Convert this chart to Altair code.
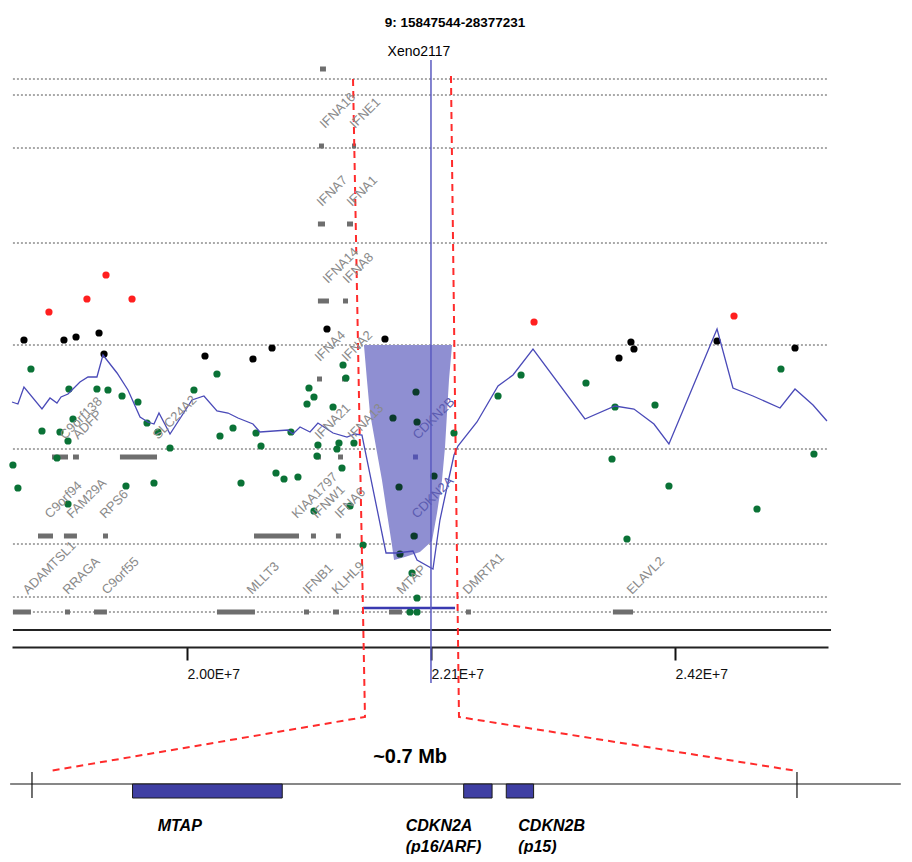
import altair as alt
import pandas as pd

# ---------------- data (positions in Mb, y in log-ratio units) ----------------
TITLE = "9: 15847544-28377231"
MARKER_NAME = "Xeno2117"
MARKER_POS = 22.1
MARKER_TOP, MARKER_BOTTOM = 2.85, -3.38
MARKER_LABEL_V = 2.93

X_DOMAIN = [18.494, 25.517]
Y_DOMAIN = [-5.09, 2.87]
TICK_VALUES = [20.0, 22.1, 24.2]

LEVELS = [2.66, 2.50, 1.97, 1.02, 0.0, -1.04, -1.99, -2.52, -2.67]
LEVEL_START, LEVEL_END = 18.502, 25.517
BASELINE_V = -2.85
BASELINE_START, BASELINE_END = 18.502, 25.543

red_x = [19.303, 18.812, 19.139, 19.527, 22.987, 24.708]
red_v = [0.70, 0.33, 0.46, 0.46, 0.23, 0.29]

black_x = [18.597, 18.941, 19.045, 19.243, 19.286, 20.155, 20.568, 20.732,
           21.205, 21.704, 23.718, 23.821, 23.847, 24.562, 25.233]
black_v = [0.05, 0.05, 0.08, 0.12, -0.09, -0.11, -0.14, -0.03,
           0.16, 0.06, -0.13, 0.03, -0.04, 0.04, -0.03]

green_x = [18.657, 18.502, 18.545, 18.752, 18.907, 18.976, 19.019, 18.984, 18.881,
           18.976, 19.225, 19.320, 19.441, 19.578, 19.656, 19.750, 19.854, 19.475,
           19.716, 20.060, 20.258, 20.284, 20.396, 20.465, 20.594, 20.637, 20.766,
           20.835, 20.955, 20.895, 21.050, 21.093, 21.033, 21.257, 21.127, 21.119,
           21.291, 21.308, 21.334, 21.343, 21.368, 21.437, 21.093, 21.403, 21.515,
           21.937, 21.980, 21.919, 21.980, 22.298, 22.677, 22.875, 23.434, 23.684,
           24.028, 23.658, 24.148, 23.787, 24.906, 25.112, 25.396]
green_v = [-0.24, -1.20, -1.43, -0.86, -0.87, -0.96, -0.74, -0.44, -1.13,
           -1.59, -0.44, -0.45, -0.51, -0.57, -0.78, -0.87, -1.03, -1.41,
           -1.38, -0.45, -0.29, -0.91, -0.83, -1.38, -0.88, -1.01, -1.28,
           -1.34, -1.32, -0.87, -0.43, -0.52, -0.59, -0.62, -1.00, -1.11,
           -1.04, -0.98, -1.23, -0.20, -0.33, -0.98, -1.66, -1.61, -2.00,
           -2.28, -2.53, -2.67, -2.67, -0.88, -0.51, -0.30, -0.38, -0.62,
           -0.60, -1.14, -1.41, -1.94, -1.64, -0.24, -1.09]

dark_x = [21.971, 21.773, 21.980, 22.126, 21.825, 21.954, 21.833]
dark_v = [-0.47, -0.73, -0.77, -1.31, -1.42, -1.91, -2.09]

avg_x = [18.494, 18.545, 18.597, 18.752, 18.821, 18.881, 18.916, 18.976, 19.079,
         19.148, 19.225, 19.277, 19.398, 19.492, 19.596, 19.664, 19.716, 19.759,
         19.854, 20.043, 20.146, 20.258, 20.353, 20.439, 20.568, 20.628, 20.869,
         20.912, 20.973, 21.059, 21.127, 21.257, 21.377, 21.446, 21.506, 21.713,
         21.807, 21.945, 21.980, 22.117, 22.177, 22.238, 22.298, 22.332, 22.496,
         22.677, 22.806, 22.978, 23.425, 23.684, 23.847, 24.019, 24.148, 24.562,
         24.699, 24.871, 25.104, 25.233, 25.388, 25.508]
avg_v = [-0.57, -0.59, -0.42, -0.64, -0.53, -0.58, -0.52, -0.49, -0.37,
         -0.32, -0.32, -0.10, -0.28, -0.45, -0.72, -0.77, -0.79, -0.68,
         -0.89, -0.55, -0.51, -0.66, -0.68, -0.73, -0.79, -0.87, -0.85,
         -0.89, -0.82, -0.87, -0.78, -0.88, -0.92, -0.89, -0.90, -2.08,
         -2.08, -2.06, -2.15, -2.24, -1.75, -1.42, -1.10, -1.01, -0.77,
         -0.41, -0.30, -0.04, -0.74, -0.61, -0.64, -0.79, -0.99, 0.16,
         -0.43, -0.51, -0.63, -0.44, -0.60, -0.76]

del_x = [21.523, 21.549, 21.575, 21.627, 21.678, 21.721, 21.764, 21.782, 21.876,
         22.005, 22.109, 22.152, 22.195, 22.221, 22.238, 22.255, 22.281]
del_v = [0.0, -0.35, -0.68, -1.02, -1.35, -1.68, -2.00, -2.15, -2.12,
         -2.07, -1.96, -1.68, -1.35, -1.02, -0.68, -0.35, 0.0]
DEL_TOP = 0.0
del_seg_start, del_seg_end, del_seg_v = 21.515, 22.307, -2.63

ROW_LEVELS = [-2.67, -1.91, -1.12, -0.34, 0.44, 1.21, 1.99, 2.76]
LABEL_GAP = 0.17
gene_name = ["ADAMTSL1", "RRAGA", "C9orf55", "MLLT3", "IFNB1", "KLHL9", "MTAP",
             "DMRTA1", "ELAVL2",
             "C9orf94", "FAM29A", "RPS6", "KIAA1797", "IFNW1", "IFNA6", "CDKN2A",
             "C9orf138", "ADFP", "SLC24A2", "IFNA21", "IFNA13", "CDKN2B",
             "IFNA4", "IFNA2", "IFNA14", "IFNA8", "IFNA7", "IFNA1", "IFNA16",
             "IFNE1", ""]
gene_start = [18.502, 18.950, 19.200, 20.258, 21.007, 21.257, 21.739, 22.401, 23.666,
              18.718, 18.941, 19.277, 20.577, 21.067, 21.282, 21.937,
              18.838, 19.019, 19.423, 21.110, 21.300, 21.945,
              21.119, 21.334, 21.127, 21.343, 21.127, 21.377, 21.136, 21.420, 21.145]
gene_end = [18.657, 18.993, 19.311, 20.585, 21.050, 21.308, 21.850, 22.444, 23.839,
            18.847, 19.053, 19.320, 20.964, 21.110, 21.325, 21.988,
            18.976, 19.070, 19.742, 21.153, 21.343, 21.988,
            21.162, 21.386, 21.222, 21.386, 21.188, 21.429, 21.179, 21.455, 21.196]
gene_row = [0, 0, 0, 0, 0, 0, 0, 0, 0,
            1, 1, 1, 1, 1, 1, 1,
            2, 2, 2, 2, 2, 2,
            3, 3, 4, 4, 5, 5, 6, 6, 7]
gene_label_x = [18.632, 18.976, 19.311, 20.559, 21.041, 21.291, 21.850, 22.418, 23.830,
                18.821, 19.010, 19.294, 20.947, 21.119, 21.317, 21.980,
                18.950, 19.062, 19.750, 21.145, 21.429, 21.988,
                21.145, 21.377, 21.214, 21.386, 21.162, 21.420, 21.188, 21.446, 21.196]
gene_kind = ["gene"] * 15 + ["target"] + ["gene"] * 5 + ["target"] + ["gene"] * 9

# zoomed-in schematic (kb within the ~0.7 Mb window)
ZOOM_SPAN_KB = 700
ZOOM_AXIS_MB = (18.666, 25.250)      # where 0 kb and 700 kb sit under the main axis
zoom_line_kb = (-20, 795)
ZOOM_LINE_V = -4.39
zoom_tick_kb = [0, 700]
ZOOM_TICK_V = (-4.27, -4.53)
zgene_name = ["MTAP", "CDKN2A", "CDKN2B"]
zgene_start = [92, 395, 434]
zgene_end = [229, 421, 459]
ZGENE_V = (-4.39, -4.53)
zlabel_text = ["MTAP", "CDKN2A", "(p16/ARF)", "CDKN2B", "(p15)"]
zlabel_kb = [115, 342, 342, 445, 445]
zlabel_v = [-4.86, -4.86, -5.07, -4.86, -5.07]
SPAN_TEXT, SPAN_KB, SPAN_V = "~0.7 Mb", 346, -4.12

conn_side = ["L", "L", "L", "R", "R", "R"]
conn_seq = [0, 1, 2, 0, 1, 2]
conn_x = [21.429, 21.532, None, 22.272, 22.341, None]
conn_kb = [None, None, 16, None, None, 700]
conn_v = [2.66, -3.72, -4.26, 2.69, -3.72, -4.26]


def zoom_mb(kb):
    z0, z1 = ZOOM_AXIS_MB
    return z0 + kb / ZOOM_SPAN_KB * (z1 - z0)


# ---------------- frames ----------------
FONT = "Liberation Sans"
xs = alt.Scale(domain=X_DOMAIN, nice=False, zero=False)
ys = alt.Scale(domain=Y_DOMAIN, nice=False, zero=False)
AX = alt.Axis(values=TICK_VALUES,
              labelExpr="upper(format(datum.value * 1000000, '.2e'))",
              offset=-207, tickSize=13, tickWidth=2, tickColor="#111111",
              domainColor="#222222", domainWidth=2, labelAlign="left",
              labelBaseline="top", labelPadding=7, labelFontSize=14,
              labelFont=FONT, labelColor="#111111", grid=False,
              title=None, labelFlush=False, labelOverlap=False)


def X(f="x"):
    return alt.X(f + ":Q", scale=xs, axis=AX)


def Y(f="v"):
    return alt.Y(f + ":Q", scale=ys, axis=None)


levels_df = pd.DataFrame({"x": LEVEL_START, "x2": LEVEL_END, "v": LEVELS})
base_df = pd.DataFrame({"x": [BASELINE_START], "x2": [BASELINE_END], "v": [BASELINE_V]})
dots_df = pd.concat([
    pd.DataFrame({"x": red_x, "v": red_v, "cls": "red"}),
    pd.DataFrame({"x": black_x, "v": black_v, "cls": "black"}),
    pd.DataFrame({"x": green_x, "v": green_v, "cls": "green"}),
    pd.DataFrame({"x": dark_x, "v": dark_v, "cls": "dark"}),
], ignore_index=True)
avg_df = pd.DataFrame({"x": avg_x, "v": avg_v})
del_df = pd.DataFrame({"x": del_x, "v": del_v, "top": DEL_TOP})
seg_df = pd.DataFrame({"x": [del_seg_start], "x2": [del_seg_end], "v": [del_seg_v]})
marker_df = pd.DataFrame({"x": [MARKER_POS], "v": [MARKER_TOP], "v2": [MARKER_BOTTOM],
                          "label": [MARKER_NAME], "lv": [MARKER_LABEL_V]})
genes_df = pd.DataFrame({"name": gene_name, "x": gene_start, "x2": gene_end,
                         "v": [ROW_LEVELS[r] for r in gene_row], "lx": gene_label_x,
                         "kind": gene_kind})
genes_df["lv"] = genes_df["v"] + LABEL_GAP
labels_df = genes_df[genes_df["name"] != ""]

conn_df = pd.DataFrame({"side": conn_side, "seq": conn_seq, "v": conn_v,
                        "x": [x if x is not None else zoom_mb(k)
                              for x, k in zip(conn_x, conn_kb)]})
zline_df = pd.DataFrame({"x": [zoom_mb(zoom_line_kb[0])], "x2": [zoom_mb(zoom_line_kb[1])],
                         "v": [ZOOM_LINE_V]})
ztick_df = pd.DataFrame({"x": [zoom_mb(k) for k in zoom_tick_kb],
                         "v": ZOOM_TICK_V[0], "v2": ZOOM_TICK_V[1]})
zgene_df = pd.DataFrame({"name": zgene_name,
                         "x": [zoom_mb(k) for k in zgene_start],
                         "x2": [zoom_mb(k) for k in zgene_end],
                         "v": ZGENE_V[0], "v2": ZGENE_V[1]})
zlabel_df = pd.DataFrame({"t": zlabel_text, "x": [zoom_mb(k) for k in zlabel_kb],
                          "v": zlabel_v})
span_df = pd.DataFrame({"t": [SPAN_TEXT], "x": [zoom_mb(SPAN_KB)], "v": [SPAN_V]})

# ---------------- layers ----------------
levels = alt.Chart(levels_df).mark_rule(color="#555555", strokeWidth=1, strokeDash=[2, 2]).encode(
    x=X(), x2="x2:Q", y=Y())
baseline = alt.Chart(base_df).mark_rule(color="#222222", strokeWidth=2).encode(
    x=X(), x2="x2:Q", y=Y())
deletion = alt.Chart(del_df).mark_area(color="#8f8fd2", opacity=1, orient="vertical").encode(
    x=X(), y=Y(), y2="top:Q")
genes = alt.Chart(genes_df).mark_rule(strokeWidth=5, strokeCap="butt").encode(
    x=X(), x2="x2:Q", y=Y(),
    color=alt.Color("kind:N", scale=alt.Scale(domain=["gene", "target"],
                                              range=["#6e6e6e", "#5555b0"]), legend=None))
dots = alt.Chart(dots_df).mark_circle(size=52, opacity=1).encode(
    x=X(), y=Y(),
    color=alt.Color("cls:N", scale=alt.Scale(domain=["red", "black", "green", "dark"],
                                             range=["#ff1f1f", "#000000", "#0a7236", "#0b3b2b"]),
                    legend=None))
avg = alt.Chart(avg_df).mark_line(color="#4a4ab8", strokeWidth=1.3).encode(
    x=X(), y=Y(), order="x:Q")
seg = alt.Chart(seg_df).mark_rule(color="#3a3ab0", strokeWidth=2.5).encode(
    x=X(), x2="x2:Q", y=Y())
marker = alt.Chart(marker_df).mark_rule(color="#5a5ac0", strokeWidth=1.5).encode(
    x=X(), y=Y(), y2="v2:Q")
marker_text = alt.Chart(marker_df).mark_text(font=FONT, fontSize=14, color="#000000",
                                             dx=-12, baseline="middle").encode(
    x=X(), y=Y("lv"), text="label:N")
conn = alt.Chart(conn_df).mark_line(color="#ff2b2b", strokeWidth=2, strokeDash=[7, 5]).encode(
    x=X(), y=Y(), detail="side:N", order="seq:Q")
gene_labels = alt.Chart(labels_df).mark_text(font=FONT, fontSize=13, angle=315, align="left",
                                             baseline="alphabetic").encode(
    x=X("lx"), y=Y("lv"), text="name:N",
    color=alt.Color("kind:N", scale=alt.Scale(domain=["gene", "target"],
                                              range=["#8a8a8a", "#5b5bb0"]), legend=None))
zline = alt.Chart(zline_df).mark_rule(color="#111111", strokeWidth=1.2).encode(
    x=X(), x2="x2:Q", y=Y())
zticks = alt.Chart(ztick_df).mark_rule(color="#111111", strokeWidth=1.2).encode(
    x=X(), y=Y(), y2="v2:Q")
zgenes = alt.Chart(zgene_df).mark_rect(color="#3f3fa3", stroke="#1a1a1a", strokeWidth=1).encode(
    x=X(), x2="x2:Q", y=Y(), y2="v2:Q")
zlabels = alt.Chart(zlabel_df).mark_text(font=FONT, fontSize=16, fontWeight="bold",
                                         fontStyle="italic", align="left",
                                         baseline="alphabetic", color="#000000").encode(
    x=X(), y=Y(), text="t:N")
span = alt.Chart(span_df).mark_text(font=FONT, fontSize=20, fontWeight="bold", align="center",
                                    baseline="middle", color="#000000").encode(
    x=X(), y=Y(), text="t:N")

chart = alt.layer(
    levels, baseline, deletion, genes, dots, avg, seg, marker, conn,
    gene_labels, marker_text, zline, zticks, zgenes, zlabels, span
).resolve_scale(color="independent").properties(
    width=816, height=796,
    background="white",
    autosize=alt.AutoSizeParams(type="none"),
    padding={"left": 4, "top": 50, "right": 76, "bottom": 0},
    title=alt.TitleParams(TITLE, font=FONT, fontSize=13.5, fontWeight="bold", color="#000000",
                          anchor="middle", frame="group", dx=35, offset=16),
).configure_view(strokeWidth=0, stroke="transparent")

chart.save("out.html", embed_options={"renderer": "svg", "actions": False})
